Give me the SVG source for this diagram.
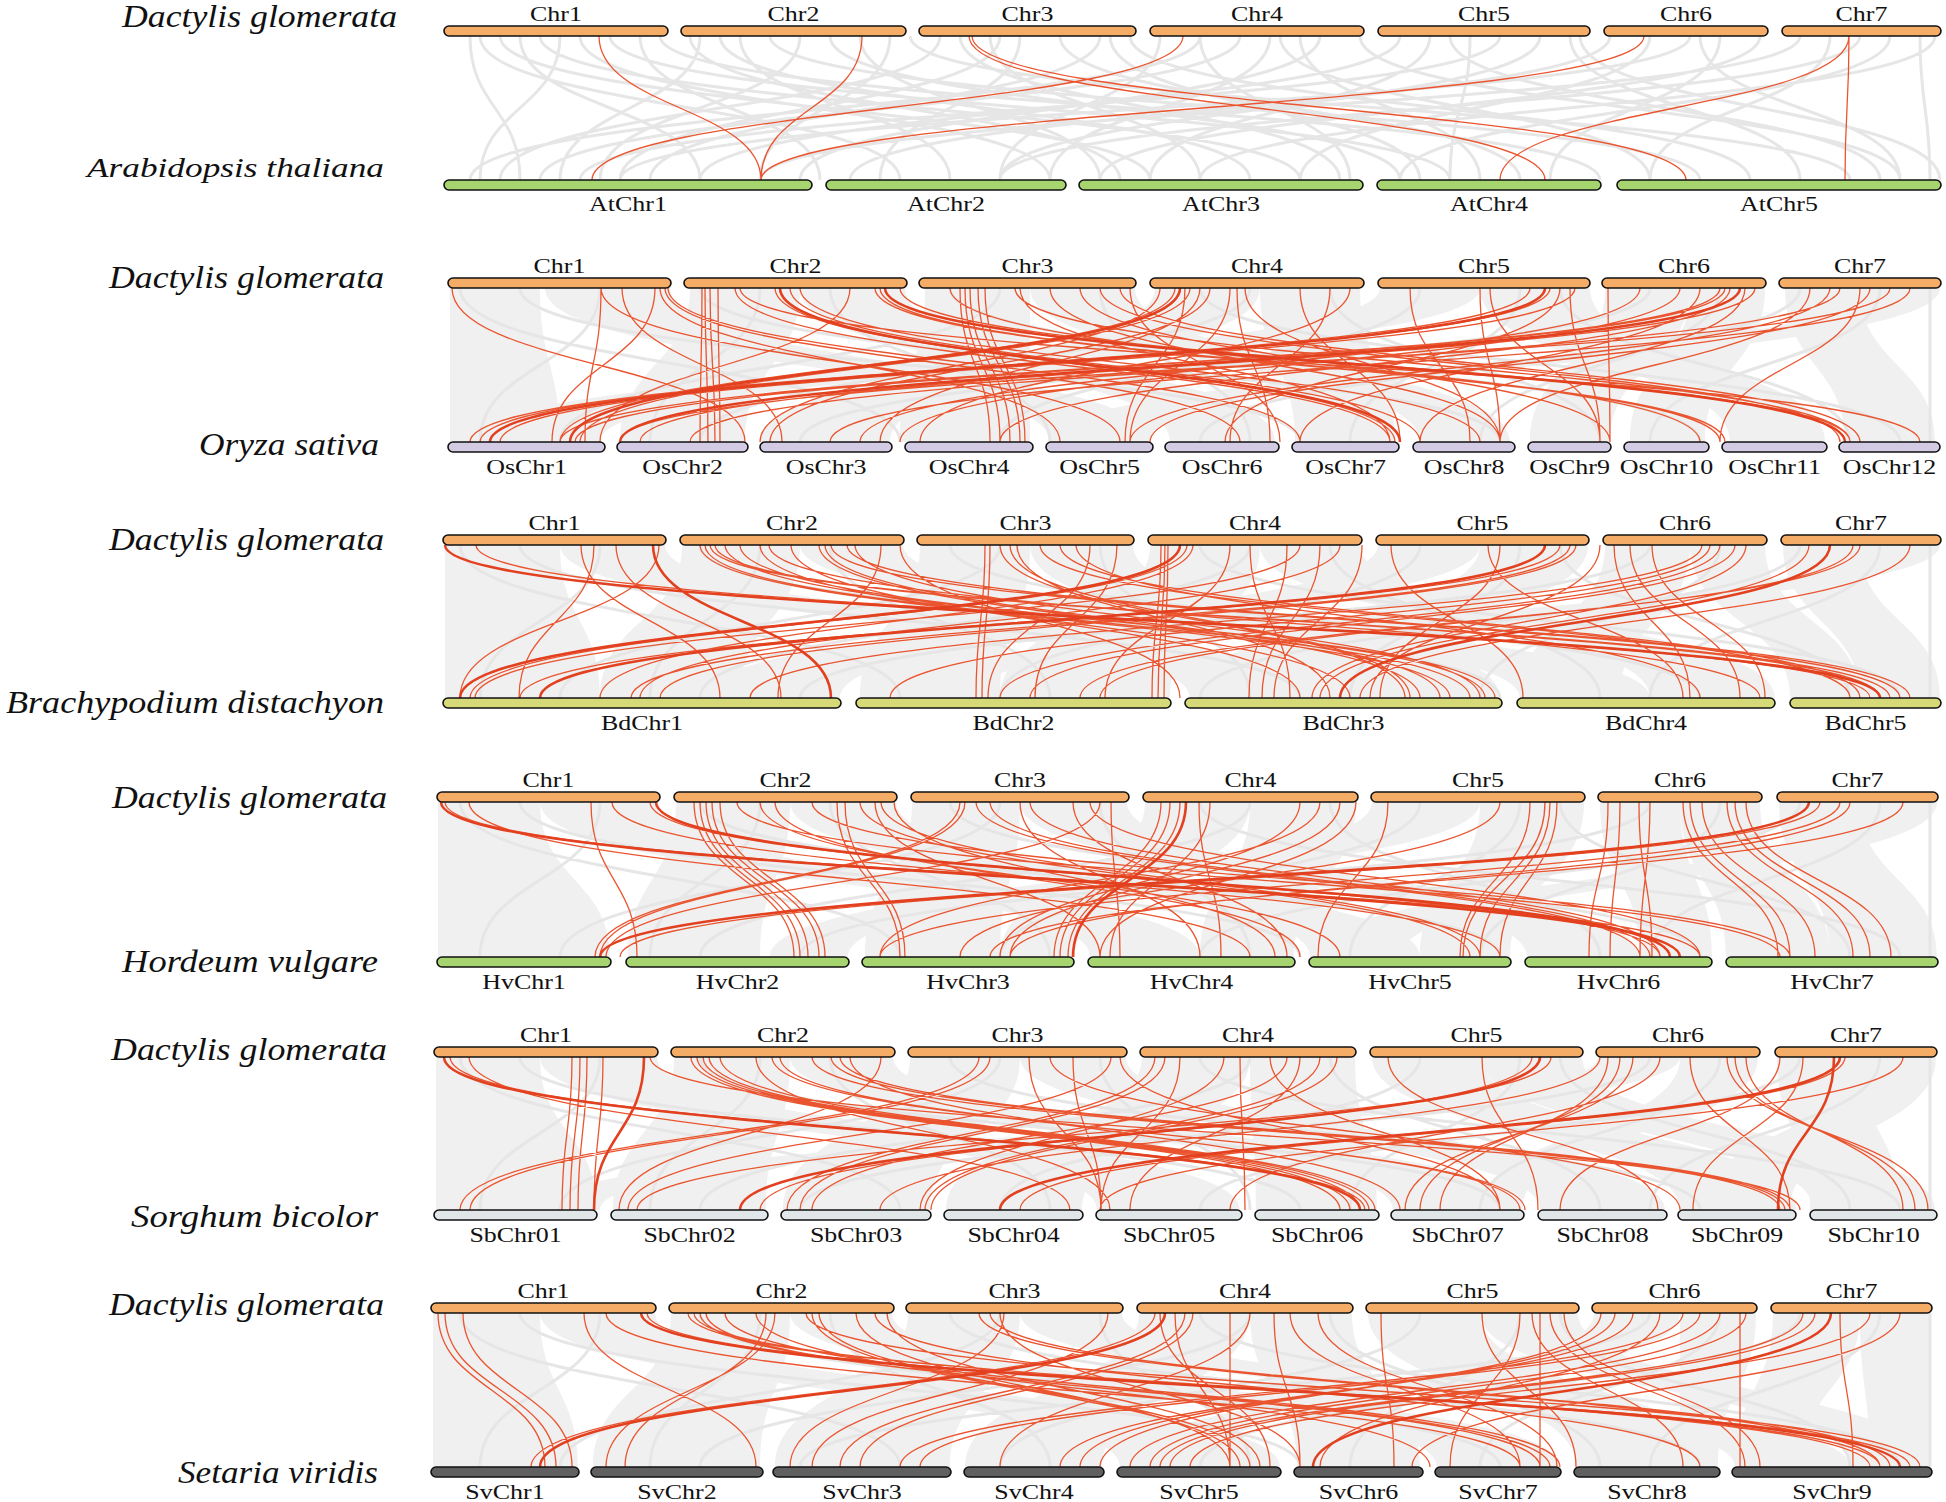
<svg xmlns="http://www.w3.org/2000/svg" width="1946" height="1502" viewBox="0 0 1946 1502">
<style>
.bar{stroke:#111;stroke-width:1.6}
.dg{fill:#F5AC66}.at{fill:#A6D46F}.os{fill:#D3CBE4}.bd{fill:#D5D977}.hv{fill:#A6D46F}.sb{fill:#E1E7E9}.sv{fill:#606060}
.cl{font-family:"Liberation Serif","Times New Roman",serif;font-size:22px;fill:#111;text-anchor:middle}
.sp{font-family:"Liberation Serif","Times New Roman",serif;font-style:italic;font-size:32px;fill:#111}
.rb{fill:#f0f0f0;stroke:none}
.gl{fill:none;stroke:#e6e6e6;stroke-width:3}
.r{fill:none;stroke:#ea5530;stroke-width:1.3}
.rt{fill:none;stroke:#e2401f;stroke-width:2.6}
</style>
<rect width="1946" height="1502" fill="#fff"/>

<g id="connectors">
<!-- Panel 1 -->
<path class="gl" d="M470 36C470 108 520 108 520 180M480 36C480 108 900 108 900 180M500 36C500 108 1150 108 1150 180M520 36C520 108 700 108 700 180M540 36C540 108 1300 108 1300 180M560 36C560 108 480 108 480 180M580 36C580 108 1050 108 1050 180M610 36C610 108 1450 108 1450 180M640 36C640 108 820 108 820 180M660 36C660 108 1600 108 1600 180M700 36C700 108 560 108 560 180M720 36C720 108 1250 108 1250 180M740 36C740 108 950 108 950 180M770 36C770 108 1700 108 1700 180M800 36C800 108 600 108 600 180M830 36C830 108 1400 108 1400 180M860 36C860 108 1100 108 1100 180M890 36C890 108 760 108 760 180M910 36C910 108 1850 108 1850 180M940 36C940 108 500 108 500 180M990 36C990 108 1200 108 1200 180M1020 36C1020 108 880 108 880 180M1060 36C1060 108 1520 108 1520 180M1100 36C1100 108 650 108 650 180M1130 36C1130 108 1750 108 1750 180M1160 36C1160 108 1000 108 1000 180M1200 36C1200 108 1350 108 1350 180M1240 36C1240 108 540 108 540 180M1280 36C1280 108 1650 108 1650 180M1320 36C1320 108 800 108 800 180M1360 36C1360 108 1900 108 1900 180M1400 36C1400 108 700 108 700 180M1430 36C1430 108 1150 108 1150 180M1470 36C1470 108 1450 108 1450 180M1500 36C1500 108 580 108 580 180M1540 36C1540 108 1000 108 1000 180M1570 36C1570 108 1800 108 1800 180M1610 36C1610 108 850 108 850 180M1650 36C1650 108 1300 108 1300 180M1690 36C1690 108 620 108 620 180M1720 36C1720 108 1550 108 1550 180M1760 36C1760 108 1100 108 1100 180M1800 36C1800 108 760 108 760 180M1830 36C1830 108 1650 108 1650 180M1860 36C1860 108 1000 108 1000 180M1890 36C1890 108 1400 108 1400 180M1920 36C1920 108 1930 108 1930 180M1935 36C1935 108 1200 108 1200 180M1700 36C1700 108 1900 108 1900 180M1200 36C1200 108 470 108 470 180M1300 36C1300 108 1480 108 1480 180M1110 36C1110 108 1420 108 1420 180M960 36C960 108 1340 108 1340 180M690 36C690 108 1120 108 1120 180M1580 36C1580 108 1940 108 1940 180M1000 36C1000 108 620 108 620 180M1270 36C1270 108 1050 108 1050 180M1450 36C1450 108 1880 108 1880 180"/>
<path class="r" d="M599 36C599 108 761 108 761 180M862 36C862 108 761 108 761 180M969 36C969 108 1545 108 1545 180M972 36C972 108 1686 108 1686 180M1183 36C1183 108 592 108 592 180M1644 36C1644 108 761 108 761 180M1849 36C1849 108 1845 108 1845 180M1849 36C1849 108 1500 108 1500 180"/>

<!-- Panel 2 -->
<path class="rb" d="M450 288C450 365 450 365 450 442L560 442C560 365 540 365 540 288ZM545 288C545 365 1050 365 1050 442L1150 442C1150 365 670 365 670 288ZM690 288C690 365 620 365 620 442L745 442C745 365 800 365 800 288ZM800 288C800 365 1170 365 1170 442L1275 442C1275 365 905 365 905 288ZM925 288C925 365 900 365 900 442L1030 442C1030 365 1030 365 1030 288ZM1030 288C1030 365 1420 365 1420 442L1510 442C1510 365 1135 365 1135 288ZM1155 288C1155 365 760 365 760 442L890 442C890 365 1260 365 1260 288ZM1260 288C1260 365 1295 365 1295 442L1395 442C1395 365 1360 365 1360 288ZM1380 288C1380 365 460 365 460 442L600 442C600 365 1480 365 1480 288ZM1480 288C1480 365 1730 365 1730 442L1825 442C1825 365 1590 365 1590 288ZM1605 288C1605 365 1530 365 1530 442L1610 442C1610 365 1690 365 1690 288ZM1690 288C1690 365 1630 365 1630 442L1705 442C1705 365 1765 365 1765 288ZM1785 288C1785 365 1845 365 1845 442L1935 442C1935 365 1860 365 1860 288ZM1860 288C1860 365 1050 365 1050 442L1150 442C1150 365 1940 365 1940 288Z"/>
<path class="gl" d="M460 288C460 365 900 365 900 442M520 288C520 365 1300 365 1300 442M600 288C600 365 480 365 480 442M700 288C700 365 1500 365 1500 442M760 288C760 365 650 365 650 442M830 288C830 365 1050 365 1050 442M950 288C950 365 1700 365 1700 442M1000 288C1000 365 560 365 560 442M1100 288C1100 365 1250 365 1250 442M1200 288C1200 365 1900 365 1900 442M1250 288C1250 365 700 365 700 442M1330 288C1330 365 1600 365 1600 442M1420 288C1420 365 1000 365 1000 442M1520 288C1520 365 1350 365 1350 442M1560 288C1560 365 1850 365 1850 442M1650 288C1650 365 800 365 800 442M1720 288C1720 365 1480 365 1480 442M1800 288C1800 365 1200 365 1200 442M1880 288C1880 365 1650 365 1650 442M1930 288C1930 365 1930 365 1930 442"/>
<path class="r" d="M452 288C452 365 745 365 745 442M601 288C601 365 585 365 585 442M601 288C601 365 1120 365 1120 442M622 288C622 365 782 365 782 442M655 288C655 365 552 365 552 442M660 288C660 365 1060 365 1060 442M665 288C665 365 1240 365 1240 442M668 288C668 365 1300 365 1300 442M702 288C702 365 700 365 700 442M705 288C705 365 708 365 708 442M710 288C710 365 715 365 715 442M718 288C718 365 720 365 720 442M775 288C775 365 1395 365 1395 442M790 288C790 365 1420 365 1420 442M800 288C800 365 1480 365 1480 442M850 288C850 365 600 365 600 442M875 288C875 365 1720 365 1720 442M880 288C880 365 1725 365 1725 442M900 288C900 365 1850 365 1850 442M960 288C960 365 990 365 990 442M965 288C965 365 1000 365 1000 442M970 288C970 365 1010 365 1010 442M978 288C978 365 1020 365 1020 442M985 288C985 365 1025 365 1025 442M1020 288C1020 365 1390 365 1390 442M1050 288C1050 365 1500 365 1500 442M1080 288C1080 365 1610 365 1610 442M1100 288C1100 365 1840 365 1840 442M1120 288C1120 365 1860 365 1860 442M1130 288C1130 365 1280 365 1280 442M1175 288C1175 365 560 365 560 442M1185 288C1185 365 1125 365 1125 442M1190 288C1190 365 580 365 580 442M1200 288C1200 365 880 365 880 442M1210 288C1210 365 770 365 770 442M1230 288C1230 365 1130 365 1130 442M1237 288C1237 365 1270 365 1270 442M1300 288C1300 365 1400 365 1400 442M1330 288C1330 365 1230 365 1230 442M1350 288C1350 365 920 365 920 442M1410 288C1410 365 1470 365 1470 442M1480 288C1480 365 1500 365 1500 442M1490 288C1490 365 1600 365 1600 442M1530 288C1530 365 480 365 480 442M1560 288C1560 365 1225 365 1225 442M1570 288C1570 365 1600 365 1600 442M1575 288C1575 365 500 365 500 442M1608 288C1608 365 1610 365 1610 442M1640 288C1640 365 860 365 860 442M1680 288C1680 365 900 365 900 442M1700 288C1700 365 1300 365 1300 442M1730 288C1730 365 1000 365 1000 442M1745 288C1745 365 1420 365 1420 442M1755 288C1755 365 640 365 640 442M1810 288C1810 365 1500 365 1500 442M1830 288C1830 365 1130 365 1130 442M1840 288C1840 365 690 365 690 442M1860 288C1860 365 1720 365 1720 442M1870 288C1870 365 1150 365 1150 442M1910 288C1910 365 830 365 830 442M735 288C735 365 1390 365 1390 442M740 288C740 365 1920 365 1920 442M1015 288C1015 365 1850 365 1850 442M1160 288C1160 365 760 365 760 442M1245 288C1245 365 1500 365 1500 442M1720 288C1720 365 560 365 560 442M1725 288C1725 365 575 365 575 442M1890 288C1890 365 620 365 620 442M1550 288C1550 365 470 365 470 442M950 288C950 365 1700 365 1700 442"/>
<path class="rt" d="M780 288C780 365 1400 365 1400 442M885 288C885 365 1845 365 1845 442M1545 288C1545 365 490 365 490 442M1740 288C1740 365 620 365 620 442M1180 288C1180 365 570 365 570 442"/>

<!-- Panel 3 -->
<path class="rb" d="M445 545C445 621 445 621 445 698L600 698C600 621 560 621 560 545ZM560 545C560 621 1190 621 1190 698L1330 698C1330 621 665 621 665 545ZM682 545C682 621 600 621 600 698L740 698C740 621 800 621 800 545ZM800 545C800 621 1520 621 1520 698L1650 698C1650 621 903 621 903 545ZM920 545C920 621 860 621 860 698L1000 698C1000 621 1030 621 1030 545ZM1030 545C1030 621 1330 621 1330 698L1500 698C1500 621 1133 621 1133 545ZM1150 545C1150 621 1000 621 1000 698L1170 698C1170 621 1260 621 1260 545ZM1260 545C1260 621 1650 621 1650 698L1775 698C1775 621 1360 621 1360 545ZM1378 545C1378 621 700 621 700 698L840 698C840 621 1480 621 1480 545ZM1480 545C1480 621 1190 621 1190 698L1320 698C1320 621 1588 621 1588 545ZM1605 545C1605 621 1520 621 1520 698L1620 698C1620 621 1690 621 1690 545ZM1690 545C1690 621 1790 621 1790 698L1860 698C1860 621 1765 621 1765 545ZM1783 545C1783 621 1860 621 1860 698L1940 698C1940 621 1860 621 1860 545ZM1860 545C1860 621 870 621 870 698L960 698C960 621 1940 621 1940 545Z"/>
<path class="gl" d="M460 545C460 621 900 621 900 698M520 545C520 621 1300 621 1300 698M600 545C600 621 480 621 480 698M700 545C700 621 1500 621 1500 698M760 545C760 621 650 621 650 698M830 545C830 621 1050 621 1050 698M950 545C950 621 1700 621 1700 698M1000 545C1000 621 560 621 560 698M1100 545C1100 621 1250 621 1250 698M1200 545C1200 621 1900 621 1900 698M1250 545C1250 621 700 621 700 698M1330 545C1330 621 1600 621 1600 698M1420 545C1420 621 1000 621 1000 698M1520 545C1520 621 1350 621 1350 698M1560 545C1560 621 1850 621 1850 698M1650 545C1650 621 800 621 800 698M1720 545C1720 621 1480 621 1480 698M1800 545C1800 621 1200 621 1200 698M1880 545C1880 621 1650 621 1650 698M1930 545C1930 621 1930 621 1930 698"/>
<path class="r" d="M476 545C476 621 1870 621 1870 698M581 545C581 621 720 621 720 698M594 545C594 621 519 621 519 698M616 545C616 621 781 621 781 698M659 545C659 621 460 621 460 698M700 545C700 621 1450 621 1450 698M705 545C705 621 1470 621 1470 698M710 545C710 621 1880 621 1880 698M715 545C715 621 1890 621 1890 698M725 545C725 621 1495 621 1495 698M769 545C769 621 1760 621 1760 698M791 545C791 621 1300 621 1300 698M819 545C819 621 1420 621 1420 698M825 545C825 621 1440 621 1440 698M831 545C831 621 1900 621 1900 698M847 545C847 621 1910 621 1910 698M855 545C855 621 1480 621 1480 698M881 545C881 621 778 621 778 698M900 545C900 621 1180 621 1180 698M985 545C985 621 976 621 976 698M990 545C990 621 982 621 982 698M1000 545C1000 621 1405 621 1405 698M1010 545C1010 621 1410 621 1410 698M1017 545C1017 621 1330 621 1330 698M1040 545C1040 621 1850 621 1850 698M1076 545C1076 621 1700 621 1700 698M1090 545C1090 621 988 621 988 698M1117 545C1117 621 1035 621 1035 698M1161 545C1161 621 1152 621 1152 698M1165 545C1165 621 1158 621 1158 698M1168 545C1168 621 1164 621 1164 698M1187 545C1187 621 470 621 470 698M1193 545C1193 621 600 621 600 698M1230 545C1230 621 1105 621 1105 698M1287 545C1287 621 1249 621 1249 698M1300 545C1300 621 475 621 475 698M1320 545C1320 621 1262 621 1262 698M1340 545C1340 621 640 621 640 698M1362 545C1362 621 1274 621 1274 698M1391 545C1391 621 1523 621 1523 698M1488 545C1488 621 1683 621 1683 698M1560 545C1560 621 520 621 520 698M1570 545C1570 621 631 621 631 698M1576 545C1576 621 660 621 660 698M1614 545C1614 621 1690 621 1690 698M1630 545C1630 621 1740 621 1740 698M1652 545C1652 621 1765 621 1765 698M1702 545C1702 621 750 621 750 698M1720 545C1720 621 1000 621 1000 698M1735 545C1735 621 1030 621 1030 698M1746 545C1746 621 1312 621 1312 698M1809 545C1809 621 1320 621 1320 698M1853 545C1853 621 1100 621 1100 698M1910 545C1910 621 1360 621 1360 698M740 545C740 621 1485 621 1485 698M760 545C760 621 1350 621 1350 698M1060 545C1060 621 1860 621 1860 698M1250 545C1250 621 1290 621 1290 698M1600 545C1600 621 1370 621 1370 698M1710 545C1710 621 890 621 890 698M1860 545C1860 621 1080 621 1080 698M1500 545C1500 621 1380 621 1380 698"/>
<path class="rt" d="M445 545C445 621 1880 621 1880 698M653 545C653 621 831 621 831 698M1180 545C1180 621 460 621 460 698M1545 545C1545 621 540 621 540 698M1830 545C1830 621 1340 621 1340 698"/>

<!-- Panel 4 -->
<path class="rb" d="M438 802C438 880 438 880 438 957L610 957C610 880 540 880 540 802ZM540 802C540 880 1090 880 1090 957L1200 957C1200 880 658 880 658 802ZM676 802C676 880 628 880 628 957L760 957C760 880 790 880 790 802ZM790 802C790 880 1310 880 1310 957L1420 957C1420 880 896 880 896 802ZM912 802C912 880 865 880 865 957L1000 957C1000 880 1020 880 1020 802ZM1020 802C1020 880 1527 880 1527 957L1640 957C1640 880 1127 880 1127 802ZM1145 802C1145 880 1000 880 1000 957L1075 957C1075 880 1250 880 1250 802ZM1250 802C1250 880 1200 880 1200 957L1294 957C1294 880 1356 880 1356 802ZM1372 802C1372 880 770 880 770 957L848 957C848 880 1480 880 1480 802ZM1480 802C1480 880 1420 880 1420 957L1510 957C1510 880 1584 880 1584 802ZM1600 802C1600 880 1640 880 1640 957L1712 957C1712 880 1680 880 1680 802ZM1680 802C1680 880 1726 880 1726 957L1830 957C1830 880 1760 880 1760 802ZM1779 802C1779 880 1830 880 1830 957L1937 957C1937 880 1860 880 1860 802ZM1860 802C1860 880 1310 880 1310 957L1400 957C1400 880 1937 880 1937 802Z"/>
<path class="gl" d="M460 802C460 880 900 880 900 957M520 802C520 880 1300 880 1300 957M600 802C600 880 480 880 480 957M700 802C700 880 1500 880 1500 957M760 802C760 880 650 880 650 957M830 802C830 880 1050 880 1050 957M950 802C950 880 1700 880 1700 957M1000 802C1000 880 560 880 560 957M1100 802C1100 880 1250 880 1250 957M1200 802C1200 880 1900 880 1900 957M1250 802C1250 880 700 880 700 957M1330 802C1330 880 1600 880 1600 957M1420 802C1420 880 1000 880 1000 957M1520 802C1520 880 1350 880 1350 957M1560 802C1560 880 1850 880 1850 957M1650 802C1650 880 800 880 800 957M1720 802C1720 880 1480 880 1480 957M1800 802C1800 880 1200 880 1200 957M1880 802C1880 880 1650 880 1650 957M1930 802C1930 880 1930 880 1930 957"/>
<path class="r" d="M445 802C445 880 1700 880 1700 957M469 802C469 880 1250 880 1250 957M591 802C591 880 637 880 637 957M612 802C612 880 1500 880 1500 957M650 802C650 880 1660 880 1660 957M694 802C694 880 794 880 794 957M700 802C700 880 800 880 800 957M706 802C706 880 808 880 808 957M712 802C712 880 819 880 819 957M737 802C737 880 1780 880 1780 957M775 802C775 880 1300 880 1300 957M812 802C812 880 1790 880 1790 957M837 802C837 880 900 880 900 957M845 802C845 880 905 880 905 957M860 802C860 880 1470 880 1470 957M875 802C875 880 1100 880 1100 957M881 802C881 880 1480 880 1480 957M894 802C894 880 1275 880 1275 957M960 802C960 880 595 880 595 957M965 802C965 880 600 880 600 957M976 802C976 880 1640 880 1640 957M990 802C990 880 1650 880 1650 957M1020 802C1020 880 1200 880 1200 957M1073 802C1073 880 1287 880 1287 957M1100 802C1100 880 606 880 606 957M1111 802C1111 880 1120 880 1120 957M1161 802C1161 880 1054 880 1054 957M1170 802C1170 880 1060 880 1060 957M1180 802C1180 880 1068 880 1068 957M1199 802C1199 880 1221 880 1221 957M1300 802C1300 880 1000 880 1000 957M1320 802C1320 880 880 880 880 957M1340 802C1340 880 1010 880 1010 957M1356 802C1356 880 1100 880 1100 957M1388 802C1388 880 1318 880 1318 957M1545 802C1545 880 1463 880 1463 957M1550 802C1550 880 1480 880 1480 957M1557 802C1557 880 1500 880 1500 957M1500 802C1500 880 960 880 960 957M1608 802C1608 880 1589 880 1589 957M1620 802C1620 880 1610 880 1610 957M1639 802C1639 880 1652 880 1652 957M1683 802C1683 880 1778 880 1778 957M1690 802C1690 880 1790 880 1790 957M1702 802C1702 880 1815 880 1815 957M1727 802C1727 880 1853 880 1853 957M1735 802C1735 880 1870 880 1870 957M1746 802C1746 880 1891 880 1891 957M1820 802C1820 880 620 880 620 957M1840 802C1840 880 880 880 880 957M1903 802C1903 880 990 880 990 957M720 802C720 880 825 880 825 957M760 802C760 880 1340 880 1340 957M1030 802C1030 880 1660 880 1660 957M1090 802C1090 880 1700 880 1700 957M1210 802C1210 880 1110 880 1110 957M1530 802C1530 880 1460 880 1460 957M1850 802C1850 880 1010 880 1010 957M1650 802C1650 880 1640 880 1640 957"/>
<path class="rt" d="M441 802C441 880 1680 880 1680 957M656 802C656 880 1670 880 1670 957M1186 802C1186 880 1073 880 1073 957M1809 802C1809 880 600 880 600 957"/>

<!-- Panel 5 -->
<path class="rb" d="M436 1057C436 1133 436 1133 436 1210L597 1210C597 1133 540 1133 540 1057ZM540 1057C540 1133 1097 1133 1097 1210L1240 1210C1240 1133 657 1133 657 1057ZM674 1057C674 1133 613 1133 613 1210L766 1210C766 1133 790 1133 790 1057ZM790 1057C790 1133 1393 1133 1393 1210L1522 1210C1522 1133 893 1133 893 1057ZM910 1057C910 1133 783 1133 783 1210L930 1210C930 1133 1020 1133 1020 1057ZM1020 1057C1020 1133 1540 1133 1540 1210L1665 1210C1665 1133 1126 1133 1126 1057ZM1142 1057C1142 1133 946 1133 946 1210L1082 1210C1082 1133 1250 1133 1250 1057ZM1250 1057C1250 1133 1256 1133 1256 1210L1377 1210C1377 1133 1355 1133 1355 1057ZM1372 1057C1372 1133 1680 1133 1680 1210L1796 1210C1796 1133 1480 1133 1480 1057ZM1480 1057C1480 1133 1813 1133 1813 1210L1935 1210C1935 1133 1582 1133 1582 1057ZM1598 1057C1598 1133 540 1133 540 1210L600 1210C600 1133 1680 1133 1680 1057ZM1680 1057C1680 1133 1480 1133 1480 1210L1522 1210C1522 1133 1758 1133 1758 1057ZM1777 1057C1777 1133 1810 1133 1810 1210L1900 1210C1900 1133 1860 1133 1860 1057ZM1860 1057C1860 1133 1700 1133 1700 1210L1790 1210C1790 1133 1936 1133 1936 1057Z"/>
<path class="gl" d="M460 1057C460 1133 900 1133 900 1210M520 1057C520 1133 1300 1133 1300 1210M600 1057C600 1133 480 1133 480 1210M700 1057C700 1133 1500 1133 1500 1210M760 1057C760 1133 650 1133 650 1210M830 1057C830 1133 1050 1133 1050 1210M950 1057C950 1133 1700 1133 1700 1210M1000 1057C1000 1133 560 1133 560 1210M1100 1057C1100 1133 1250 1133 1250 1210M1200 1057C1200 1133 1900 1133 1900 1210M1250 1057C1250 1133 700 1133 700 1210M1330 1057C1330 1133 1600 1133 1600 1210M1420 1057C1420 1133 1000 1133 1000 1210M1520 1057C1520 1133 1350 1133 1350 1210M1560 1057C1560 1133 1850 1133 1850 1210M1650 1057C1650 1133 800 1133 800 1210M1720 1057C1720 1133 1480 1133 1480 1210M1800 1057C1800 1133 1200 1133 1200 1210M1880 1057C1880 1133 1650 1133 1650 1210M1930 1057C1930 1133 1930 1133 1930 1210"/>
<path class="r" d="M450 1057C450 1133 1365 1133 1365 1210M469 1057C469 1133 1070 1133 1070 1210M572 1057C572 1133 562 1133 562 1210M580 1057C580 1133 570 1133 570 1210M587 1057C587 1133 578 1133 578 1210M603 1057C603 1133 594 1133 594 1210M650 1057C650 1133 1800 1133 1800 1210M691 1057C691 1133 1340 1133 1340 1210M697 1057C697 1133 1350 1133 1350 1210M703 1057C703 1133 1360 1133 1360 1210M709 1057C709 1133 1369 1133 1369 1210M756 1057C756 1133 1110 1133 1110 1210M772 1057C772 1133 1525 1133 1525 1210M812 1057C812 1133 1780 1133 1780 1210M831 1057C831 1133 1785 1133 1785 1210M840 1057C840 1133 1790 1133 1790 1210M850 1057C850 1133 1400 1133 1400 1210M881 1057C881 1133 619 1133 619 1210M979 1057C979 1133 460 1133 460 1210M990 1057C990 1133 470 1133 470 1210M1029 1057C1029 1133 1101 1133 1101 1210M1073 1057C1073 1133 1101 1133 1101 1210M1111 1057C1111 1133 628 1133 628 1210M1120 1057C1120 1133 1500 1133 1500 1210M1155 1057C1155 1133 787 1133 787 1210M1165 1057C1165 1133 800 1133 800 1210M1180 1057C1180 1133 1101 1133 1101 1210M1224 1057C1224 1133 920 1133 920 1210M1287 1057C1287 1133 812 1133 812 1210M1300 1057C1300 1133 1130 1133 1130 1210M1320 1057C1320 1133 925 1133 925 1210M1337 1057C1337 1133 931 1133 931 1210M1388 1057C1388 1133 1658 1133 1658 1210M1482 1057C1482 1133 1538 1133 1538 1210M1532 1057C1532 1133 760 1133 760 1210M1551 1057C1551 1133 637 1133 637 1210M1608 1057C1608 1133 1440 1133 1440 1210M1620 1057C1620 1133 1420 1133 1420 1210M1633 1057C1633 1133 1405 1133 1405 1210M1690 1057C1690 1133 1790 1133 1790 1210M1727 1057C1727 1133 1928 1133 1928 1210M1735 1057C1735 1133 1915 1133 1915 1210M1746 1057C1746 1133 1903 1133 1903 1210M1803 1057C1803 1133 1693 1133 1693 1210M1845 1057C1845 1133 1020 1133 1020 1210M1903 1057C1903 1133 1100 1133 1100 1210M720 1057C720 1133 1375 1133 1375 1210M780 1057C780 1133 1520 1133 1520 1210M1050 1057C1050 1133 1680 1133 1680 1210M1240 1057C1240 1133 1245 1133 1245 1210M1270 1057C1270 1133 1500 1133 1500 1210M1600 1057C1600 1133 880 1133 880 1210M1660 1057C1660 1133 1230 1133 1230 1210M1780 1057C1780 1133 1560 1133 1560 1210"/>
<path class="rt" d="M444 1057C444 1133 1360 1133 1360 1210M644 1057C644 1133 594 1133 594 1210M1540 1057C1540 1133 740 1133 740 1210M1834 1057C1834 1133 1778 1133 1778 1210M1840 1057C1840 1133 1000 1133 1000 1210"/>

<!-- Panel 6 -->
<path class="rb" d="M433 1313C433 1390 433 1390 433 1467L578 1467C578 1390 540 1390 540 1313ZM540 1313C540 1390 1120 1390 1120 1467L1280 1467C1280 1390 655 1390 655 1313ZM671 1313C671 1390 593 1390 593 1467L760 1467C760 1390 790 1390 790 1313ZM790 1313C790 1390 1437 1390 1437 1467L1560 1467C1560 1390 892 1390 892 1313ZM908 1313C908 1390 775 1390 775 1467L950 1467C950 1390 1020 1390 1020 1313ZM1020 1313C1020 1390 1735 1390 1735 1467L1850 1467C1850 1390 1122 1390 1122 1313ZM1139 1313C1139 1390 965 1390 965 1467L1102 1467C1102 1390 1250 1390 1250 1313ZM1250 1313C1250 1390 1297 1390 1297 1467L1420 1467C1420 1390 1352 1390 1352 1313ZM1368 1313C1368 1390 1576 1390 1576 1467L1718 1467C1718 1390 1480 1390 1480 1313ZM1480 1313C1480 1390 1850 1390 1850 1467L1930 1467C1930 1390 1578 1390 1578 1313ZM1594 1313C1594 1390 1120 1390 1120 1467L1200 1467C1200 1390 1680 1390 1680 1313ZM1680 1313C1680 1390 1680 1390 1680 1467L1718 1467C1718 1390 1756 1390 1756 1313ZM1773 1313C1773 1390 1735 1390 1735 1467L1800 1467C1800 1390 1860 1390 1860 1313ZM1860 1313C1860 1390 1870 1390 1870 1467L1931 1467C1931 1390 1931 1390 1931 1313Z"/>
<path class="gl" d="M460 1313C460 1390 900 1390 900 1467M520 1313C520 1390 1300 1390 1300 1467M600 1313C600 1390 480 1390 480 1467M700 1313C700 1390 1500 1390 1500 1467M760 1313C760 1390 650 1390 650 1467M830 1313C830 1390 1050 1390 1050 1467M950 1313C950 1390 1700 1390 1700 1467M1000 1313C1000 1390 560 1390 560 1467M1100 1313C1100 1390 1250 1390 1250 1467M1200 1313C1200 1390 1900 1390 1900 1467M1250 1313C1250 1390 700 1390 700 1467M1330 1313C1330 1390 1600 1390 1600 1467M1420 1313C1420 1390 1000 1390 1000 1467M1520 1313C1520 1390 1350 1390 1350 1467M1560 1313C1560 1390 1850 1390 1850 1467M1650 1313C1650 1390 800 1390 800 1467M1720 1313C1720 1390 1480 1390 1480 1467M1800 1313C1800 1390 1200 1390 1200 1467M1880 1313C1880 1390 1650 1390 1650 1467M1930 1313C1930 1390 1930 1390 1930 1467"/>
<path class="r" d="M438 1313C438 1390 545 1390 545 1467M445 1313C445 1390 556 1390 556 1467M463 1313C463 1390 572 1390 572 1467M584 1313C584 1390 756 1390 756 1467M606 1313C606 1390 1520 1390 1520 1467M647 1313C647 1390 1910 1390 1910 1467M688 1313C688 1390 1880 1390 1880 1467M694 1313C694 1390 1870 1390 1870 1467M700 1313C700 1390 1550 1390 1550 1467M706 1313C706 1390 1540 1390 1540 1467M756 1313C756 1390 1430 1390 1430 1467M766 1313C766 1390 625 1390 625 1467M775 1313C775 1390 606 1390 606 1467M806 1313C806 1390 1920 1390 1920 1467M812 1313C812 1390 1240 1390 1240 1467M819 1313C819 1390 1250 1390 1250 1467M856 1313C856 1390 1230 1390 1230 1467M875 1313C875 1390 1700 1390 1700 1467M887 1313C887 1390 1260 1390 1260 1467M979 1313C979 1390 1880 1390 1880 1467M990 1313C990 1390 1890 1390 1890 1467M1004 1313C1004 1390 790 1390 790 1467M1108 1313C1108 1390 812 1390 812 1467M1155 1313C1155 1390 531 1390 531 1467M1175 1313C1175 1390 1230 1390 1230 1467M1185 1313C1185 1390 840 1390 840 1467M1193 1313C1193 1390 860 1390 860 1467M1230 1313C1230 1390 1230 1390 1230 1467M1274 1313C1274 1390 1300 1390 1300 1467M1290 1313C1290 1390 1520 1390 1520 1467M1318 1313C1318 1390 1557 1390 1557 1467M1381 1313C1381 1390 1394 1390 1394 1467M1482 1313C1482 1390 1576 1390 1576 1467M1532 1313C1532 1390 1683 1390 1683 1467M1540 1313C1540 1390 1540 1390 1540 1467M1550 1313C1550 1390 1745 1390 1745 1467M1564 1313C1564 1390 1760 1390 1760 1467M1601 1313C1601 1390 1100 1390 1100 1467M1615 1313C1615 1390 1080 1390 1080 1467M1633 1313C1633 1390 1060 1390 1060 1467M1683 1313C1683 1390 900 1390 900 1467M1700 1313C1700 1390 920 1390 920 1467M1720 1313C1720 1390 1130 1390 1130 1467M1746 1313C1746 1390 1150 1390 1150 1467M1803 1313C1803 1390 1160 1390 1160 1467M1815 1313C1815 1390 1170 1390 1170 1467M1840 1313C1840 1390 1853 1390 1853 1467M1900 1313C1900 1390 1412 1390 1412 1467M725 1313C725 1390 1560 1390 1560 1467M1000 1313C1000 1390 1300 1390 1300 1467M1160 1313C1160 1390 1270 1390 1270 1467M1250 1313C1250 1390 1000 1390 1000 1467M1520 1313C1520 1390 1450 1390 1450 1467M1660 1313C1660 1390 1320 1390 1320 1467M1740 1313C1740 1390 1740 1390 1740 1467M1870 1313C1870 1390 1190 1390 1190 1467"/>
<path class="rt" d="M641 1313C641 1390 1900 1390 1900 1467M1831 1313C1831 1390 1313 1390 1313 1467M1165 1313C1165 1390 540 1390 540 1467"/>
</g>

<!-- Species labels -->
<g id="species">
<text class="sp" x="397" y="27" text-anchor="end" textLength="275" lengthAdjust="spacingAndGlyphs">Dactylis glomerata</text>
<text class="sp" x="384" y="177" text-anchor="end" style="font-size:27px" textLength="297" lengthAdjust="spacingAndGlyphs">Arabidopsis thaliana</text>
<text class="sp" x="384" y="288" text-anchor="end" textLength="275" lengthAdjust="spacingAndGlyphs">Dactylis glomerata</text>
<text class="sp" x="379" y="455" text-anchor="end" textLength="180" lengthAdjust="spacingAndGlyphs">Oryza sativa</text>
<text class="sp" x="384" y="550" text-anchor="end" textLength="275" lengthAdjust="spacingAndGlyphs">Dactylis glomerata</text>
<text class="sp" x="384" y="713" text-anchor="end" textLength="378" lengthAdjust="spacingAndGlyphs">Brachypodium distachyon</text>
<text class="sp" x="387" y="808" text-anchor="end" textLength="275" lengthAdjust="spacingAndGlyphs">Dactylis glomerata</text>
<text class="sp" x="378" y="972" text-anchor="end" textLength="256" lengthAdjust="spacingAndGlyphs">Hordeum vulgare</text>
<text class="sp" x="387" y="1060" text-anchor="end" textLength="276" lengthAdjust="spacingAndGlyphs">Dactylis glomerata</text>
<text class="sp" x="378" y="1227" text-anchor="end" textLength="247" lengthAdjust="spacingAndGlyphs">Sorghum bicolor</text>
<text class="sp" x="384" y="1315" text-anchor="end" textLength="275" lengthAdjust="spacingAndGlyphs">Dactylis glomerata</text>
<text class="sp" x="378" y="1483" text-anchor="end" textLength="200" lengthAdjust="spacingAndGlyphs">Setaria viridis</text>
</g>

<!-- Panel 1 nodes -->
<g id="p1-dg-chr1"><rect class="bar dg" x="444" y="26" width="224" height="10" rx="5"/><text class="cl" transform="translate(556,21) scale(1.18 1)">Chr1</text></g>
<g id="p1-dg-chr2"><rect class="bar dg" x="681" y="26" width="225" height="10" rx="5"/><text class="cl" transform="translate(793.5,21) scale(1.18 1)">Chr2</text></g>
<g id="p1-dg-chr3"><rect class="bar dg" x="919" y="26" width="217" height="10" rx="5"/><text class="cl" transform="translate(1027.5,21) scale(1.18 1)">Chr3</text></g>
<g id="p1-dg-chr4"><rect class="bar dg" x="1150" y="26" width="214" height="10" rx="5"/><text class="cl" transform="translate(1257,21) scale(1.18 1)">Chr4</text></g>
<g id="p1-dg-chr5"><rect class="bar dg" x="1378" y="26" width="212" height="10" rx="5"/><text class="cl" transform="translate(1484,21) scale(1.18 1)">Chr5</text></g>
<g id="p1-dg-chr6"><rect class="bar dg" x="1604" y="26" width="164" height="10" rx="5"/><text class="cl" transform="translate(1686,21) scale(1.18 1)">Chr6</text></g>
<g id="p1-dg-chr7"><rect class="bar dg" x="1782" y="26" width="159" height="10" rx="5"/><text class="cl" transform="translate(1861.5,21) scale(1.18 1)">Chr7</text></g>
<g id="p1-at-chr1"><rect class="bar at" x="444" y="180" width="368" height="10" rx="5"/><text class="cl" transform="translate(628,211) scale(1.18 1)">AtChr1</text></g>
<g id="p1-at-chr2"><rect class="bar at" x="826" y="180" width="240" height="10" rx="5"/><text class="cl" transform="translate(946,211) scale(1.18 1)">AtChr2</text></g>
<g id="p1-at-chr3"><rect class="bar at" x="1079" y="180" width="284" height="10" rx="5"/><text class="cl" transform="translate(1221,211) scale(1.18 1)">AtChr3</text></g>
<g id="p1-at-chr4"><rect class="bar at" x="1377" y="180" width="224" height="10" rx="5"/><text class="cl" transform="translate(1489,211) scale(1.18 1)">AtChr4</text></g>
<g id="p1-at-chr5"><rect class="bar at" x="1617" y="180" width="324" height="10" rx="5"/><text class="cl" transform="translate(1779,211) scale(1.18 1)">AtChr5</text></g>

<!-- Panel 2 nodes -->
<g id="p2-dg-chr1"><rect class="bar dg" x="448" y="278" width="223" height="10" rx="5"/><text class="cl" transform="translate(559.5,273) scale(1.18 1)">Chr1</text></g>
<g id="p2-dg-chr2"><rect class="bar dg" x="684" y="278" width="223" height="10" rx="5"/><text class="cl" transform="translate(795.5,273) scale(1.18 1)">Chr2</text></g>
<g id="p2-dg-chr3"><rect class="bar dg" x="919" y="278" width="217" height="10" rx="5"/><text class="cl" transform="translate(1027.5,273) scale(1.18 1)">Chr3</text></g>
<g id="p2-dg-chr4"><rect class="bar dg" x="1150" y="278" width="214" height="10" rx="5"/><text class="cl" transform="translate(1257,273) scale(1.18 1)">Chr4</text></g>
<g id="p2-dg-chr5"><rect class="bar dg" x="1378" y="278" width="212" height="10" rx="5"/><text class="cl" transform="translate(1484,273) scale(1.18 1)">Chr5</text></g>
<g id="p2-dg-chr6"><rect class="bar dg" x="1602" y="278" width="164" height="10" rx="5"/><text class="cl" transform="translate(1684,273) scale(1.18 1)">Chr6</text></g>
<g id="p2-dg-chr7"><rect class="bar dg" x="1779" y="278" width="162" height="10" rx="5"/><text class="cl" transform="translate(1860,273) scale(1.18 1)">Chr7</text></g>
<g id="p2-os-chr1"><rect class="bar os" x="448" y="442" width="157" height="10" rx="5"/><text class="cl" transform="translate(526.5,474) scale(1.18 1)">OsChr1</text></g>
<g id="p2-os-chr2"><rect class="bar os" x="617" y="442" width="131" height="10" rx="5"/><text class="cl" transform="translate(682.5,474) scale(1.18 1)">OsChr2</text></g>
<g id="p2-os-chr3"><rect class="bar os" x="760" y="442" width="132" height="10" rx="5"/><text class="cl" transform="translate(826,474) scale(1.18 1)">OsChr3</text></g>
<g id="p2-os-chr4"><rect class="bar os" x="905" y="442" width="128" height="10" rx="5"/><text class="cl" transform="translate(969,474) scale(1.18 1)">OsChr4</text></g>
<g id="p2-os-chr5"><rect class="bar os" x="1046" y="442" width="107" height="10" rx="5"/><text class="cl" transform="translate(1099.5,474) scale(1.18 1)">OsChr5</text></g>
<g id="p2-os-chr6"><rect class="bar os" x="1165" y="442" width="114" height="10" rx="5"/><text class="cl" transform="translate(1222,474) scale(1.18 1)">OsChr6</text></g>
<g id="p2-os-chr7"><rect class="bar os" x="1292" y="442" width="107" height="10" rx="5"/><text class="cl" transform="translate(1345.5,474) scale(1.18 1)">OsChr7</text></g>
<g id="p2-os-chr8"><rect class="bar os" x="1413" y="442" width="102" height="10" rx="5"/><text class="cl" transform="translate(1464,474) scale(1.18 1)">OsChr8</text></g>
<g id="p2-os-chr9"><rect class="bar os" x="1528" y="442" width="83" height="10" rx="5"/><text class="cl" transform="translate(1569.5,474) scale(1.18 1)">OsChr9</text></g>
<g id="p2-os-chr10"><rect class="bar os" x="1624" y="442" width="85" height="10" rx="5"/><text class="cl" transform="translate(1666.5,474) scale(1.18 1)">OsChr10</text></g>
<g id="p2-os-chr11"><rect class="bar os" x="1722" y="442" width="105" height="10" rx="5"/><text class="cl" transform="translate(1774.5,474) scale(1.18 1)">OsChr11</text></g>
<g id="p2-os-chr12"><rect class="bar os" x="1839" y="442" width="101" height="10" rx="5"/><text class="cl" transform="translate(1889.5,474) scale(1.18 1)">OsChr12</text></g>

<!-- Panel 3 nodes -->
<g id="p3-dg-chr1"><rect class="bar dg" x="443" y="535" width="223" height="10" rx="5"/><text class="cl" transform="translate(554.5,530) scale(1.18 1)">Chr1</text></g>
<g id="p3-dg-chr2"><rect class="bar dg" x="680" y="535" width="224" height="10" rx="5"/><text class="cl" transform="translate(792,530) scale(1.18 1)">Chr2</text></g>
<g id="p3-dg-chr3"><rect class="bar dg" x="917" y="535" width="217" height="10" rx="5"/><text class="cl" transform="translate(1025.5,530) scale(1.18 1)">Chr3</text></g>
<g id="p3-dg-chr4"><rect class="bar dg" x="1148" y="535" width="214" height="10" rx="5"/><text class="cl" transform="translate(1255,530) scale(1.18 1)">Chr4</text></g>
<g id="p3-dg-chr5"><rect class="bar dg" x="1376" y="535" width="213" height="10" rx="5"/><text class="cl" transform="translate(1482.5,530) scale(1.18 1)">Chr5</text></g>
<g id="p3-dg-chr6"><rect class="bar dg" x="1603" y="535" width="164" height="10" rx="5"/><text class="cl" transform="translate(1685,530) scale(1.18 1)">Chr6</text></g>
<g id="p3-dg-chr7"><rect class="bar dg" x="1781" y="535" width="160" height="10" rx="5"/><text class="cl" transform="translate(1861,530) scale(1.18 1)">Chr7</text></g>
<g id="p3-bd-chr1"><rect class="bar bd" x="443" y="698" width="398" height="10" rx="5"/><text class="cl" transform="translate(642,730) scale(1.18 1)">BdChr1</text></g>
<g id="p3-bd-chr2"><rect class="bar bd" x="856" y="698" width="315" height="10" rx="5"/><text class="cl" transform="translate(1013.5,730) scale(1.18 1)">BdChr2</text></g>
<g id="p3-bd-chr3"><rect class="bar bd" x="1185" y="698" width="317" height="10" rx="5"/><text class="cl" transform="translate(1343.5,730) scale(1.18 1)">BdChr3</text></g>
<g id="p3-bd-chr4"><rect class="bar bd" x="1517" y="698" width="258" height="10" rx="5"/><text class="cl" transform="translate(1646,730) scale(1.18 1)">BdChr4</text></g>
<g id="p3-bd-chr5"><rect class="bar bd" x="1790" y="698" width="151" height="10" rx="5"/><text class="cl" transform="translate(1865.5,730) scale(1.18 1)">BdChr5</text></g>

<!-- Panel 4 nodes -->
<g id="p4-dg-chr1"><rect class="bar dg" x="437" y="792" width="223" height="10" rx="5"/><text class="cl" transform="translate(548.5,787) scale(1.18 1)">Chr1</text></g>
<g id="p4-dg-chr2"><rect class="bar dg" x="674" y="792" width="223" height="10" rx="5"/><text class="cl" transform="translate(785.5,787) scale(1.18 1)">Chr2</text></g>
<g id="p4-dg-chr3"><rect class="bar dg" x="911" y="792" width="218" height="10" rx="5"/><text class="cl" transform="translate(1020,787) scale(1.18 1)">Chr3</text></g>
<g id="p4-dg-chr4"><rect class="bar dg" x="1143" y="792" width="215" height="10" rx="5"/><text class="cl" transform="translate(1250.5,787) scale(1.18 1)">Chr4</text></g>
<g id="p4-dg-chr5"><rect class="bar dg" x="1371" y="792" width="214" height="10" rx="5"/><text class="cl" transform="translate(1478,787) scale(1.18 1)">Chr5</text></g>
<g id="p4-dg-chr6"><rect class="bar dg" x="1598" y="792" width="164" height="10" rx="5"/><text class="cl" transform="translate(1680,787) scale(1.18 1)">Chr6</text></g>
<g id="p4-dg-chr7"><rect class="bar dg" x="1777" y="792" width="161" height="10" rx="5"/><text class="cl" transform="translate(1857.5,787) scale(1.18 1)">Chr7</text></g>
<g id="p4-hv-chr1"><rect class="bar hv" x="437" y="957" width="174" height="10" rx="5"/><text class="cl" transform="translate(524,989) scale(1.18 1)">HvChr1</text></g>
<g id="p4-hv-chr2"><rect class="bar hv" x="626" y="957" width="223" height="10" rx="5"/><text class="cl" transform="translate(737.5,989) scale(1.18 1)">HvChr2</text></g>
<g id="p4-hv-chr3"><rect class="bar hv" x="862" y="957" width="212" height="10" rx="5"/><text class="cl" transform="translate(968,989) scale(1.18 1)">HvChr3</text></g>
<g id="p4-hv-chr4"><rect class="bar hv" x="1088" y="957" width="207" height="10" rx="5"/><text class="cl" transform="translate(1191.5,989) scale(1.18 1)">HvChr4</text></g>
<g id="p4-hv-chr5"><rect class="bar hv" x="1309" y="957" width="202" height="10" rx="5"/><text class="cl" transform="translate(1410,989) scale(1.18 1)">HvChr5</text></g>
<g id="p4-hv-chr6"><rect class="bar hv" x="1525" y="957" width="187" height="10" rx="5"/><text class="cl" transform="translate(1618.5,989) scale(1.18 1)">HvChr6</text></g>
<g id="p4-hv-chr7"><rect class="bar hv" x="1726" y="957" width="212" height="10" rx="5"/><text class="cl" transform="translate(1832,989) scale(1.18 1)">HvChr7</text></g>

<!-- Panel 5 nodes -->
<g id="p5-dg-chr1"><rect class="bar dg" x="434" y="1047" width="224" height="10" rx="5"/><text class="cl" transform="translate(546,1042) scale(1.18 1)">Chr1</text></g>
<g id="p5-dg-chr2"><rect class="bar dg" x="671" y="1047" width="224" height="10" rx="5"/><text class="cl" transform="translate(783,1042) scale(1.18 1)">Chr2</text></g>
<g id="p5-dg-chr3"><rect class="bar dg" x="908" y="1047" width="219" height="10" rx="5"/><text class="cl" transform="translate(1017.5,1042) scale(1.18 1)">Chr3</text></g>
<g id="p5-dg-chr4"><rect class="bar dg" x="1140" y="1047" width="216" height="10" rx="5"/><text class="cl" transform="translate(1248,1042) scale(1.18 1)">Chr4</text></g>
<g id="p5-dg-chr5"><rect class="bar dg" x="1370" y="1047" width="213" height="10" rx="5"/><text class="cl" transform="translate(1476.5,1042) scale(1.18 1)">Chr5</text></g>
<g id="p5-dg-chr6"><rect class="bar dg" x="1596" y="1047" width="164" height="10" rx="5"/><text class="cl" transform="translate(1678,1042) scale(1.18 1)">Chr6</text></g>
<g id="p5-dg-chr7"><rect class="bar dg" x="1775" y="1047" width="162" height="10" rx="5"/><text class="cl" transform="translate(1856,1042) scale(1.18 1)">Chr7</text></g>
<g id="p5-sb-chr01"><rect class="bar sb" x="434" y="1210" width="163" height="10" rx="5"/><text class="cl" transform="translate(515.5,1242) scale(1.18 1)">SbChr01</text></g>
<g id="p5-sb-chr02"><rect class="bar sb" x="611" y="1210" width="157" height="10" rx="5"/><text class="cl" transform="translate(689.5,1242) scale(1.18 1)">SbChr02</text></g>
<g id="p5-sb-chr03"><rect class="bar sb" x="781" y="1210" width="150" height="10" rx="5"/><text class="cl" transform="translate(856,1242) scale(1.18 1)">SbChr03</text></g>
<g id="p5-sb-chr04"><rect class="bar sb" x="944" y="1210" width="139" height="10" rx="5"/><text class="cl" transform="translate(1013.5,1242) scale(1.18 1)">SbChr04</text></g>
<g id="p5-sb-chr05"><rect class="bar sb" x="1096" y="1210" width="146" height="10" rx="5"/><text class="cl" transform="translate(1169,1242) scale(1.18 1)">SbChr05</text></g>
<g id="p5-sb-chr06"><rect class="bar sb" x="1255" y="1210" width="124" height="10" rx="5"/><text class="cl" transform="translate(1317,1242) scale(1.18 1)">SbChr06</text></g>
<g id="p5-sb-chr07"><rect class="bar sb" x="1391" y="1210" width="133" height="10" rx="5"/><text class="cl" transform="translate(1457.5,1242) scale(1.18 1)">SbChr07</text></g>
<g id="p5-sb-chr08"><rect class="bar sb" x="1538" y="1210" width="129" height="10" rx="5"/><text class="cl" transform="translate(1602.5,1242) scale(1.18 1)">SbChr08</text></g>
<g id="p5-sb-chr09"><rect class="bar sb" x="1678" y="1210" width="118" height="10" rx="5"/><text class="cl" transform="translate(1737,1242) scale(1.18 1)">SbChr09</text></g>
<g id="p5-sb-chr10"><rect class="bar sb" x="1810" y="1210" width="127" height="10" rx="5"/><text class="cl" transform="translate(1873.5,1242) scale(1.18 1)">SbChr10</text></g>

<!-- Panel 6 nodes -->
<g id="p6-dg-chr1"><rect class="bar dg" x="431" y="1303" width="225" height="10" rx="5"/><text class="cl" transform="translate(543.5,1298) scale(1.18 1)">Chr1</text></g>
<g id="p6-dg-chr2"><rect class="bar dg" x="669" y="1303" width="225" height="10" rx="5"/><text class="cl" transform="translate(781.5,1298) scale(1.18 1)">Chr2</text></g>
<g id="p6-dg-chr3"><rect class="bar dg" x="906" y="1303" width="217" height="10" rx="5"/><text class="cl" transform="translate(1014.5,1298) scale(1.18 1)">Chr3</text></g>
<g id="p6-dg-chr4"><rect class="bar dg" x="1137" y="1303" width="216" height="10" rx="5"/><text class="cl" transform="translate(1245,1298) scale(1.18 1)">Chr4</text></g>
<g id="p6-dg-chr5"><rect class="bar dg" x="1366" y="1303" width="213" height="10" rx="5"/><text class="cl" transform="translate(1472.5,1298) scale(1.18 1)">Chr5</text></g>
<g id="p6-dg-chr6"><rect class="bar dg" x="1592" y="1303" width="165" height="10" rx="5"/><text class="cl" transform="translate(1674.5,1298) scale(1.18 1)">Chr6</text></g>
<g id="p6-dg-chr7"><rect class="bar dg" x="1771" y="1303" width="161" height="10" rx="5"/><text class="cl" transform="translate(1851.5,1298) scale(1.18 1)">Chr7</text></g>
<g id="p6-sv-chr1"><rect class="bar sv" x="431" y="1467" width="148" height="10" rx="5"/><text class="cl" transform="translate(505,1499) scale(1.18 1)">SvChr1</text></g>
<g id="p6-sv-chr2"><rect class="bar sv" x="591" y="1467" width="172" height="10" rx="5"/><text class="cl" transform="translate(677,1499) scale(1.18 1)">SvChr2</text></g>
<g id="p6-sv-chr3"><rect class="bar sv" x="773" y="1467" width="178" height="10" rx="5"/><text class="cl" transform="translate(862,1499) scale(1.18 1)">SvChr3</text></g>
<g id="p6-sv-chr4"><rect class="bar sv" x="964" y="1467" width="140" height="10" rx="5"/><text class="cl" transform="translate(1034,1499) scale(1.18 1)">SvChr4</text></g>
<g id="p6-sv-chr5"><rect class="bar sv" x="1117" y="1467" width="164" height="10" rx="5"/><text class="cl" transform="translate(1199,1499) scale(1.18 1)">SvChr5</text></g>
<g id="p6-sv-chr6"><rect class="bar sv" x="1294" y="1467" width="129" height="10" rx="5"/><text class="cl" transform="translate(1358.5,1499) scale(1.18 1)">SvChr6</text></g>
<g id="p6-sv-chr7"><rect class="bar sv" x="1435" y="1467" width="126" height="10" rx="5"/><text class="cl" transform="translate(1498,1499) scale(1.18 1)">SvChr7</text></g>
<g id="p6-sv-chr8"><rect class="bar sv" x="1574" y="1467" width="146" height="10" rx="5"/><text class="cl" transform="translate(1647,1499) scale(1.18 1)">SvChr8</text></g>
<g id="p6-sv-chr9"><rect class="bar sv" x="1732" y="1467" width="200" height="10" rx="5"/><text class="cl" transform="translate(1832,1499) scale(1.18 1)">SvChr9</text></g>
</svg>
